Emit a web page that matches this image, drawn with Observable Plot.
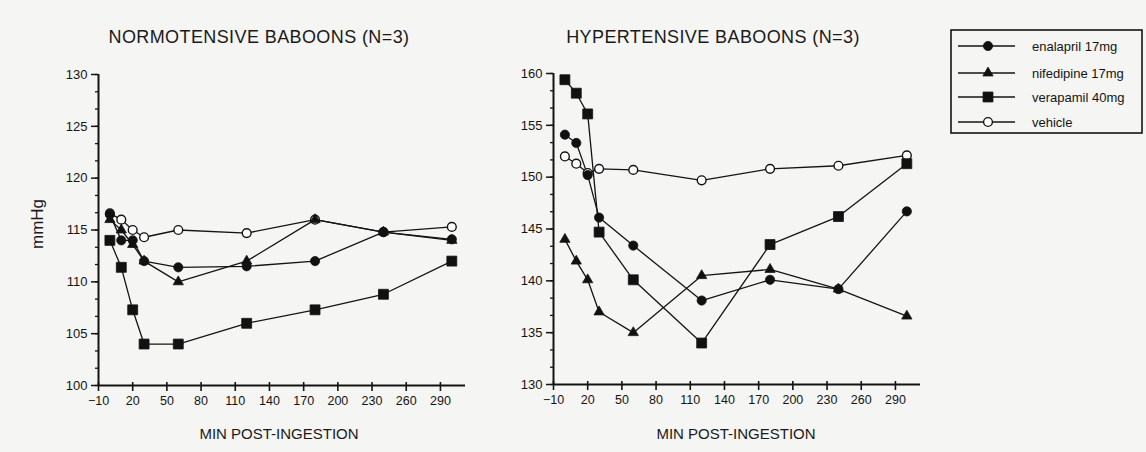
<!DOCTYPE html>
<html><head><meta charset="utf-8">
<script src="https://cdn.jsdelivr.net/npm/d3@7"></script>
<script src="https://cdn.jsdelivr.net/npm/@observablehq/plot@0.6"></script>
<style>
body{margin:0;background:#f5f5f3;}
#root{position:relative;width:1146px;height:452px;overflow:hidden;font-family:"Liberation Sans",Arial,sans-serif;color:#1a1a1a;background:#f5f5f3;}
.t{position:absolute;white-space:nowrap;transform:translate(-50%,-50%);line-height:1;}
.abs{position:absolute;top:0;}
</style></head><body><div id="root"></div>
<script>
// ---- data ----
const times = [0, 10, 20, 30, 60, 120, 180, 240, 300];
const xTicks = [-10, 20, 50, 80, 110, 140, 170, 200, 230, 260, 290];
const normoTicks = [100, 105, 110, 115, 120, 125, 130];
const hyperTicks = [130, 135, 140, 145, 150, 155, 160];

const normoEnalapril  = [116.5, 114.0, 114.0, 112.0, 111.4, 111.5, 112.0, 114.8, 114.1];
const normoNifedipine = [116.0, 115.0, 113.6, 112.0, 110.0, 112.0, 116.0, 114.8, 114.0];
const normoVerapamil  = [114.0, 111.4, 107.3, 104.0, 104.0, 106.0, 107.3, 108.8, 112.0];
const normoVehicle    = [116.6, 116.0, 115.0, 114.3, 115.0, 114.7, 116.0, 114.8, 115.3];

const hyperEnalapril  = [154.1, 153.3, 150.2, 146.1, 143.4, 138.1, 140.1, 139.2, 146.7];
const hyperNifedipine = [144.0, 141.9, 140.1, 137.0, 135.0, 140.5, 141.1, 139.2, 136.6];
const hyperVerapamil  = [159.4, 158.1, 156.1, 144.7, 140.1, 134.0, 143.5, 146.2, 151.3];
const hyperVehicle    = [152.0, 151.3, 150.4, 150.8, 150.7, 149.7, 150.8, 151.1, 152.1];

const seriesNames = ["enalapril 17mg", "nifedipine 17mg", "verapamil 40mg", "vehicle"];
const symbols = ["circle", "triangle", "square", "circle"];
const sizes = [4.6, 3.8, 5.6, 4.4];
const fills = ["#111", "#111", "#111", "#fff"];
const normoData = [normoEnalapril, normoNifedipine, normoVerapamil, normoVehicle];
const hyperData = [hyperEnalapril, hyperNifedipine, hyperVerapamil, hyperVehicle];

const root = document.getElementById("root");
const INK = "#141414";

function makePanel(data, yMin, yMax, yMajor, w, ml, mr, mt, mb) {
  const xMin = -10, xMax = 312;
  const minor = d3.range(yMin, yMax + 0.01, 5 / 3);
  const marks = [
    Plot.axisY({ticks: minor, tickSize: 3, tickFormat: () => "", label: null, stroke: INK, strokeWidth: 1.3}),
    Plot.axisY({ticks: yMajor, tickSize: 7, tickPadding: 4, label: null, stroke: INK, strokeWidth: 1.5, fontSize: 13, fill: INK}),
    Plot.axisX({ticks: xTicks, tickSize: 6, tickPadding: 5, label: null, stroke: INK, strokeWidth: 1.6, fontSize: 12.5, fill: INK}),
    Plot.axisX({ticks: xTicks, tickSize: -3, tickFormat: () => "", label: null, stroke: INK, strokeWidth: 1.6}),
    Plot.ruleY([yMin], {x1: xMin, x2: xMax, stroke: INK, strokeWidth: 2}),
    Plot.ruleX([xMin], {y1: yMin, y2: yMax, stroke: INK, strokeWidth: 2})
  ];
  const rowsBy = data.map((vals, k) => times.map((t, i) => ({series: seriesNames[k], t, v: vals[i]})));
  rowsBy.forEach(rows => marks.push(Plot.line(rows, {x: "t", y: "v", stroke: INK, strokeWidth: 1.3})));
  [3, 0, 1, 2].forEach(k => marks.push(Plot.dot(rowsBy[k], {
    x: "t", y: "v", symbol: () => symbols[k], r: sizes[k], fill: fills[k],
    stroke: INK, strokeWidth: k === 3 ? 1.4 : 0.8
  })));
  return Plot.plot({
    width: w, height: 452,
    marginLeft: ml, marginRight: mr, marginTop: mt, marginBottom: mb,
    x: {domain: [xMin, xMax]},
    y: {domain: [yMin, yMax]},
    symbol: {type: "identity"},
    style: {background: "transparent", fontFamily: "'Liberation Sans', Arial, sans-serif", fontSize: "12px", color: INK, overflow: "visible"},
    marks
  });
}

const left = makePanel(normoData, 100, 130, normoTicks, 480, 98, 15, 74, 67);
left.classList.add("abs"); left.style.left = "0px";
root.appendChild(left);

const right = makePanel(hyperData, 130, 160, hyperTicks, 466, 73, 26, 73, 68);
right.classList.add("abs"); right.style.left = "480px";
root.appendChild(right);

function label(text, x, y, size, extra) {
  const d = document.createElement("div");
  d.className = "t";
  d.textContent = text;
  d.style.left = x + "px"; d.style.top = y + "px"; d.style.fontSize = size + "px";
  if (extra) Object.assign(d.style, extra);
  root.appendChild(d);
  return d;
}
label("NORMOTENSIVE BABOONS (N=3)", 259, 37, 18, {letterSpacing: "0.4px"});
label("HYPERTENSIVE BABOONS (N=3)", 713, 37, 18, {letterSpacing: "0.4px"});
label("mmHg", 37, 224, 17, {transform: "translate(-50%,-50%) rotate(-90deg)"});
label("MIN POST-INGESTION", 279, 433, 15);
label("MIN POST-INGESTION", 736, 433, 15);

// ---- legend ----
const lg = d3.select(root).append("svg")
  .attr("width", 194).attr("height", 106)
  .style("position", "absolute").style("left", "950px").style("top", "29px");
lg.append("rect").attr("x", 1).attr("y", 1).attr("width", 191).attr("height", 103)
  .attr("fill", "none").attr("stroke", INK).attr("stroke-width", 1.6);
const itemY = [17, 44, 68, 93];
const symMap = {circle: d3.symbolCircle, triangle: d3.symbolTriangle, square: d3.symbolSquare};
seriesNames.forEach((name, k) => {
  const g = lg.append("g").attr("transform", `translate(0,${itemY[k]})`);
  g.append("line").attr("x1", 8).attr("x2", 65).attr("stroke", INK).attr("stroke-width", 1.3);
  g.append("path").attr("transform", "translate(38,0)")
    .attr("d", d3.symbol(symMap[symbols[k]], sizes[k] * sizes[k] * Math.PI)())
    .attr("fill", fills[k]).attr("stroke", INK).attr("stroke-width", k === 3 ? 1.4 : 0.8);
  g.append("text").attr("x", 82).attr("dy", "0.35em").attr("font-size", 13)
    .attr("font-family", "'Liberation Sans', Arial, sans-serif").attr("fill", INK).text(name);
});
</script>
</body></html>
